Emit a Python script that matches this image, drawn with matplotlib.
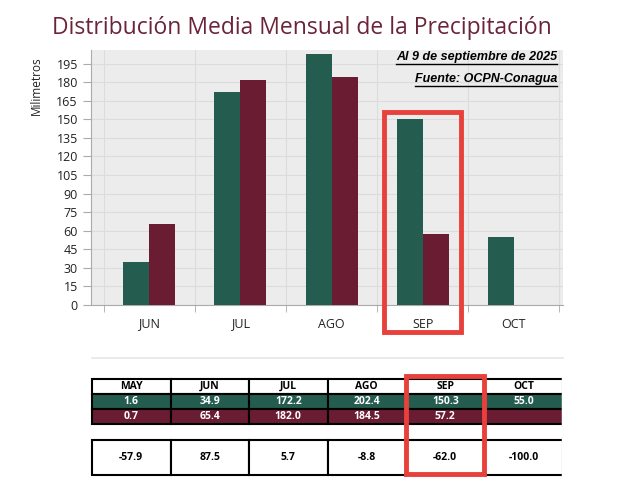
import matplotlib.pyplot as plt
from matplotlib.patches import Rectangle
from matplotlib.lines import Line2D
import numpy as np

# Monthly precipitation (mm)
months = ['JUN', 'JUL', 'AGO', 'SEP', 'OCT']
normal = [34.9, 172.2, 202.4, 150.3, 55.0]
year_2025 = [65.4, 182.0, 184.5, 57.2, None]

table_months = ['MAY', 'JUN', 'JUL', 'AGO', 'SEP', 'OCT']
table_normal = ['1.6', '34.9', '172.2', '202.4', '150.3', '55.0']
table_2025 = ['0.7', '65.4', '182.0', '184.5', '57.2', '']
table_diff = ['-57.9', '87.5', '5.7', '-8.8', '-62.0', '-100.0']

green = '#245c4f'
maroon = '#6a1d32'
font = 'Open Sans'

fig = plt.figure(figsize=(6.29, 4.94), dpi=100)

# Title
fig.text(52 / 629, 1 - 28 / 494, 'Distribución Media Mensual de la Precipitación',
         fontsize=16.5, color='#6b2439', family=font, va='center', ha='left')

# Bar chart
ax = fig.add_axes([91 / 629, 1 - 305 / 494, 472 / 629, 255 / 494])
ax.set_facecolor('#ececec')
x = np.arange(len(months))
w = 0.285
ax.bar(x - w / 2, normal, width=w, color=green, zorder=3)
ax.bar([i + w / 2 for i, v in enumerate(year_2025) if v is not None],
       [v for v in year_2025 if v is not None], width=w, color=maroon, zorder=3)
ax.set_xlim(-0.64, 4.54)
ax.set_ylim(0, 206)
ax.set_yticks(np.arange(0, 210, 15))
ax.set_xticks(x)
ax.set_xticklabels(months, family=font, fontsize=9, color='#222222')
ax.set_xticks(np.arange(-0.5, 5, 1), minor=True)
ax.tick_params(axis='x', which='major', length=0, pad=9)
ax.tick_params(axis='x', which='minor', length=5, color='#aaaaaa')
ax.tick_params(axis='y', length=6, color='#aaaaaa', labelsize=9, labelcolor='#222222')
for lab in ax.get_yticklabels():
    lab.set_family(font)
ax.grid(axis='y', color='#dcdcdc', linewidth=0.8, zorder=0)
ax.grid(axis='x', which='minor', color='#dcdcdc', linewidth=0.8, zorder=0)
for s in ['top', 'right']:
    ax.spines[s].set_visible(False)
for s in ['left', 'bottom']:
    ax.spines[s].set_color('#aaaaaa')
ax.set_ylabel('Milimetros', family=font, fontsize=8.5, color='#222222')
ax.yaxis.set_label_coords(-0.102, 0.86)

# Notes
notes = [('Al 9 de septiembre de 2025', 57), ('Fuente: OCPN-Conagua', 79)]
fig.canvas.draw()
renderer = fig.canvas.get_renderer()
for txt, ypx in notes:
    t = fig.text(557 / 629, 1 - ypx / 494, txt, fontsize=9, fontweight='bold',
                 fontstyle='italic', family='Liberation Sans', ha='right', va='center')
    bb = t.get_window_extent(renderer).transformed(fig.transFigure.inverted())
    fig.add_artist(Line2D([bb.x0, bb.x1], [bb.y0 - 0.003, bb.y0 - 0.003],
                          color='black', linewidth=1, transform=fig.transFigure))

# Separator line
fig.add_artist(Line2D([92 / 629, 563 / 629], [1 - 358 / 494] * 2,
                      color='#e6e6e6', linewidth=1.2, transform=fig.transFigure))


def style_table(tax, tbl, header=False):
    tbl.auto_set_font_size(False)
    for (r, c), cell in tbl.get_celld().items():
        cell.set_linewidth(1.5)
        cell.set_edgecolor('black')
        txt = cell.get_text()
        txt.set_fontsize(7.5)
        txt.set_fontweight('bold')
        txt.set_family(font)
        if header and r > 0:
            txt.set_color('white')
    # the table is open on its right side
    tax.add_line(Line2D([1, 1], [-0.05, 1.05], color='white', linewidth=2.5,
                        transform=tax.transAxes, clip_on=False, zorder=20))


# Tables
tax = fig.add_axes([92 / 629, 1 - 424 / 494, 471 / 629, 45 / 494])
tax.axis('off')
tbl = tax.table(cellText=[table_months, table_normal, table_2025],
                cellColours=[['white'] * 6, [green] * 6, [maroon] * 6],
                cellLoc='center', bbox=[0, 0, 1, 1])
style_table(tax, tbl, header=True)

dax = fig.add_axes([92 / 629, 1 - 475 / 494, 471 / 629, 35 / 494])
dax.axis('off')
dtbl = dax.table(cellText=[table_diff], cellColours=[['white'] * 6],
                 cellLoc='center', bbox=[0, 0, 1, 1])
style_table(dax, dtbl)

# Highlight boxes
red = '#e8403a'
for x0, y0, x1, y1 in [(384, 112, 461, 332), (406, 376, 484, 474)]:
    fig.add_artist(Rectangle((x0 / 629, 1 - y1 / 494), (x1 - x0) / 629, (y1 - y0) / 494,
                             fill=False, edgecolor=red, linewidth=3.5,
                             transform=fig.transFigure, zorder=10))

fig.savefig('out.png', dpi=100)
